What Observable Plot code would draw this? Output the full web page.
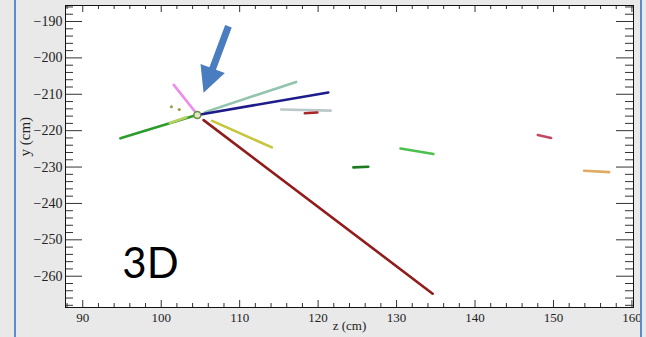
<!DOCTYPE html>
<html><head><meta charset="utf-8">
<script src="https://cdn.jsdelivr.net/npm/d3@7"></script>
<script src="https://cdn.jsdelivr.net/npm/@observablehq/plot@0.6"></script>
<style>
html,body{margin:0;padding:0;background:#e9e9e9;}
#wrap{position:relative;width:646px;height:337px;overflow:hidden;background:#e9e9e9;}
#wrap svg{position:absolute;left:0;top:0;}
.bl{position:absolute;top:0;width:2px;height:337px;background:#5a8ccf;}
</style>
</head><body>
<div id="wrap"><div class="bl" style="left:14px"></div><div class="bl" style="left:640px"></div></div>
<script>
// Track segments (z in cm, y in cm): start and end points
const trackNames = ["pink","teal","navy","gray","red","green","yellowgreen","yellow","maroon","darkgreen","lightgreen","rose","orange"];
const trackZ1 = [101.6, 105.6, 104.8, 115.3, 118.3,  94.8, 101.1, 106.5, 105.4, 124.5, 130.5, 148.0, 153.9];
const trackY1 = [-207.4,-214.9,-215.6,-214.2,-215.2,-222.1,-217.9,-217.3,-217.1,-230.1,-224.9,-221.2,-231.0];
const trackZ2 = [104.5, 117.2, 121.3, 121.6, 119.9, 104.2, 103.2, 114.1, 134.6, 126.4, 134.7, 149.7, 157.1];
const trackY2 = [-215.3,-206.6,-209.5,-214.5,-215.0,-215.9,-216.3,-224.6,-264.8,-229.9,-226.4,-222.0,-231.4];
const trackColors = ["#ee8cee","#93c4ae","#1c1c8a","#bcc8c8","#a82828","#2c9c2c","#b8d060","#c6c63c","#901c1c","#1e7a1e","#4cc04c","#c04a62","#e0aa62"];

// isolated hits
const hitZ = [101.3, 102.3];
const hitY = [-213.4, -214.2];

// vertex
const vertexZ = [104.6];
const vertexY = [-215.7];

// annotation arrow tip (points at the vertex region)
const arrowTipZ = [105.4];
const arrowTipY = [-209.6];

// ticks
const xMajor = [90,100,110,120,130,140,150,160];
const yMajor = [-190,-200,-210,-220,-230,-240,-250,-260];
const xMinor = d3.range(88, 161, 2).filter(v => v % 10 !== 0);
const yMinor = d3.range(-268, -185, 2).filter(v => v % 10 !== 0);

const W = 646, H = 337, mL = 65, mR = 13, mT = 5, mB = 30;
const pw = W - mL - mR, ph = H - mT - mB;
const idx = trackNames.map((_, i) => i);
const tickStroke = "#333";

// block-arrow shape for Plot.vector (shaft half-width 3.5, head 26 long, 13 half-wide)
const blockArrow = {
  draw(context, l) {
    const sw = 3.5, hl = 26, hw = 13;
    context.moveTo(-sw, 0);
    context.lineTo(sw, 0);
    context.lineTo(sw, -l + hl);
    context.lineTo(hw, -l + hl);
    context.lineTo(0, -l);
    context.lineTo(-hw, -l + hl);
    context.lineTo(-sw, -l + hl);
    context.closePath();
  }
};

const chart = Plot.plot({
  width: W, height: H,
  marginLeft: mL, marginRight: mR, marginTop: mT, marginBottom: mB,
  style: {background: "transparent", fontFamily: "'Liberation Serif', 'DejaVu Serif', serif", color: "#222"},
  x: {domain: [87.8, 160.2]},
  y: {domain: [-268.6, -185.6]},
  color: {domain: trackNames, range: trackColors},
  marks: [
    Plot.frame({fill: "white", stroke: null}),
    Plot.tickX(xMajor, {x: d => d, insetTop: ph - 7, stroke: tickStroke}),
    Plot.tickX(xMajor, {x: d => d, insetBottom: ph - 7, stroke: tickStroke}),
    Plot.tickX(xMinor, {x: d => d, insetTop: ph - 4, stroke: tickStroke}),
    Plot.tickX(xMinor, {x: d => d, insetBottom: ph - 4, stroke: tickStroke}),
    Plot.tickY(yMajor, {y: d => d, insetRight: pw - 17, stroke: tickStroke}),
    Plot.tickY(yMajor, {y: d => d, insetLeft: pw - 17, stroke: tickStroke}),
    Plot.tickY(yMinor, {y: d => d, insetRight: pw - 8, stroke: tickStroke}),
    Plot.tickY(yMinor, {y: d => d, insetLeft: pw - 8, stroke: tickStroke}),
    Plot.axisX({ticks: xMajor, tickSize: 0, tickPadding: 5, fontSize: 13, label: null}),
    Plot.axisY({ticks: yMajor, tickSize: 0, tickPadding: 3, fontSize: 14, label: null}),
    Plot.text(["z (cm)"], {frameAnchor: "bottom", dy: 22, lineAnchor: "bottom", fontSize: 13, fill: "#222"}),
    Plot.text(["y (cm)"], {frameAnchor: "left", dx: -40, rotate: -90, fontSize: 15, fill: "#222"}),
    Plot.link(idx, {
      x1: i => trackZ1[i], y1: i => trackY1[i], x2: i => trackZ2[i], y2: i => trackY2[i],
      stroke: i => trackNames[i], strokeWidth: 2.6, strokeLinecap: "round"
    }),
    Plot.dot(hitZ.map((_, i) => i), {x: i => hitZ[i], y: i => hitY[i], r: 1.5, fill: "#9a9a3a", stroke: null}),
    Plot.dot(vertexZ.map((_, i) => i), {x: i => vertexZ[i], y: i => vertexY[i], r: 3.5, fill: "#dfe8c8", stroke: "#6f8a3a", strokeWidth: 1.5}),
    Plot.frame({stroke: "#111", strokeWidth: 1}),
    Plot.vector(arrowTipZ.map((_, i) => i), {
      x: i => arrowTipZ[i], y: i => arrowTipY[i], anchor: "end", length: 71, rotate: 200.5,
      shape: blockArrow, fill: "#4a7dbf", stroke: "none"
    }),
    Plot.text(["3D"], {frameAnchor: "bottom-left", dx: 85, dy: -30, lineAnchor: "bottom", textAnchor: "middle",
      fontSize: 42, fontFamily: "Lato, 'Open Sans', sans-serif", fill: "#000"})
  ]
});
document.getElementById("wrap").prepend(chart);
</script>
</body></html>
